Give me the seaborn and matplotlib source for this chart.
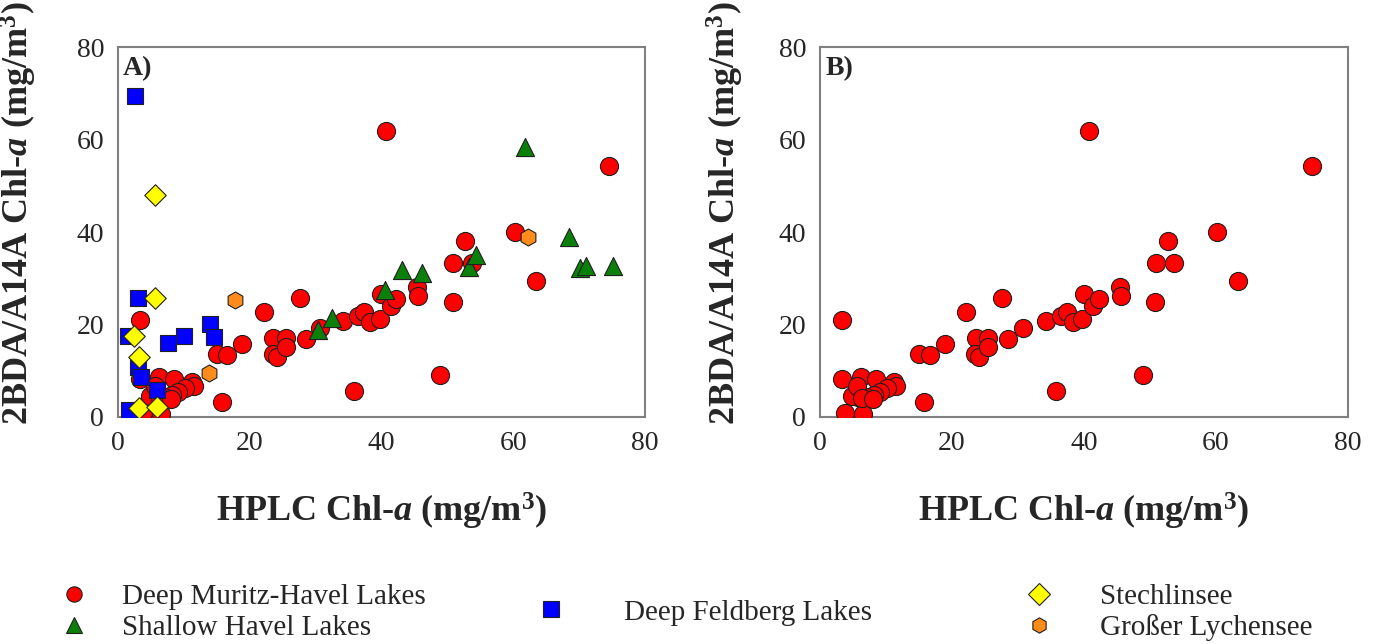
import pandas as pd
import seaborn as sns
import matplotlib.pyplot as plt
from matplotlib.lines import Line2D

# Deep Muritz-Havel Lakes (red circles) - shown in both panels
muritz_x = [3.3, 3.4, 3.8, 6.2, 6.5, 8.5, 11.2, 11.5, 10.2, 9.1, 8.2, 7.0, 5.8, 4.8, 5.6, 6.4, 8.0,
            15.0, 16.6, 18.9, 15.8, 22.2, 27.6, 23.6, 25.5, 23.5, 24.1, 25.5, 28.5, 30.7, 34.2,
            36.5, 37.4, 38.3, 39.7, 40.0, 41.4, 42.2, 35.8, 40.7, 45.4, 45.6, 48.9, 50.9, 50.8,
            52.7, 53.7, 60.2, 63.4, 74.6]
muritz_y = [21.0, 8.3, 0.8, 8.7, 0.7, 8.3, 7.6, 6.7, 6.2, 5.3, 4.8, 4.4, 4.4, 4.5, 6.6, 4.0, 3.9,
            13.6, 13.4, 15.8, 3.3, 22.6, 25.8, 17.0, 17.0, 13.6, 13.0, 15.2, 16.9, 19.2, 20.8,
            21.8, 22.6, 20.6, 21.1, 26.7, 23.9, 25.6, 5.6, 61.9, 28.0, 26.2, 9.0, 33.2, 24.8,
            38.0, 33.4, 40.1, 29.4, 54.2]

# Shallow Havel Lakes (green triangles)
havel_x = [30.4, 32.5, 40.5, 43.1, 46.2, 53.3, 54.3, 61.8, 68.4, 70.1, 71.1, 75.2]
havel_y = [18.8, 21.3, 27.5, 31.8, 31.1, 32.5, 35.0, 58.4, 39.0, 32.3, 32.6, 32.6]

# Deep Feldberg Lakes (blue squares)
feldberg_x = [2.6, 3.0, 13.9, 14.6, 10.0, 7.6, 1.5, 3.0, 3.5, 6.0, 1.7]
feldberg_y = [69.5, 25.7, 20.1, 17.4, 17.5, 15.9, 17.5, 10.9, 8.6, 5.8, 1.5]

# Stechlinsee (yellow diamonds)
stechlin_x = [5.6, 5.7, 2.4, 3.2, 3.2, 5.9]
stechlin_y = [48.0, 25.7, 17.5, 12.9, 2.0, 2.2]

# Grosser Lychensee (orange hexagons)
lychen_x = [17.7, 13.8, 62.3]
lychen_y = [25.3, 9.6, 38.9]

groups = [
    ("Deep Muritz-Havel Lakes", muritz_x, muritz_y, "#ff0000", "o", 170),
    ("Shallow Havel Lakes", havel_x, havel_y, "#0a800a", "^", 170),
    ("Deep Feldberg Lakes", feldberg_x, feldberg_y, "#0000ff", "s", 130),
    ("Stechlinsee", stechlin_x, stechlin_y, "#ffff00", "D", 120),
    ("Großer Lychensee", lychen_x, lychen_y, "#ff8c1a", "h", 150),
]

sns.set_style("white")
plt.rcParams["font.family"] = ["Liberation Serif", "DejaVu Serif"]
plt.rcParams["mathtext.fontset"] = "custom"
plt.rcParams["mathtext.rm"] = "Liberation Serif:bold"
plt.rcParams["mathtext.it"] = "Liberation Serif:italic:bold"
plt.rcParams["mathtext.bf"] = "Liberation Serif:bold"

fig = plt.figure(figsize=(13.73, 6.44), dpi=100)
ax_a = fig.add_axes([0.0859, 0.3525, 0.3839, 0.5745])
ax_b = fig.add_axes([0.5972, 0.3525, 0.3846, 0.5745])

for name, xs, ys, col, mk, s in groups:
    df = pd.DataFrame({"hplc": xs, "bda": ys})
    sns.scatterplot(data=df, x="hplc", y="bda", ax=ax_a, color=col, marker=mk, s=s,
                    edgecolor="#202020", linewidth=0.8, legend=False, zorder=3)

df_b = pd.DataFrame({"hplc": muritz_x, "bda": muritz_y})
sns.scatterplot(data=df_b, x="hplc", y="bda", ax=ax_b, color="#ff0000", marker="o", s=170,
                edgecolor="#202020", linewidth=0.8, legend=False, zorder=3)

xlab = r"HPLC Chl-$\mathit{a}$ (mg/m$^{3}$)"
ylab = r"2BDA/A14A Chl-$\mathit{a}$ (mg/m$^{3}$)"
for ax, tag, ylx in [(ax_a, "A)", -0.15), (ax_b, "B)", -0.14)]:
    ax.set_xlim(0, 80)
    ax.set_ylim(0, 80)
    ax.set_xticks([0, 20, 40, 60, 80])
    ax.set_yticks([0, 20, 40, 60, 80])
    for sp in ax.spines.values():
        sp.set_color("#808080")
        sp.set_linewidth(1.5)
    ax.tick_params(axis="both", direction="out", length=6, width=1.2, color="#808080",
                   labelsize=20, pad=4)
    ax.set_xlabel(xlab, fontsize=26, fontweight="bold")
    ax.set_ylabel(ylab, fontsize=26, fontweight="bold")
    ax.xaxis.set_label_coords(0.5, -0.2)
    ax.yaxis.set_label_coords(ylx, 0.55)
    ax.text(0.01, 0.975, tag, transform=ax.transAxes, fontsize=20, fontweight="bold",
            va="top", ha="left")


def handle(name):
    for n, xs, ys, col, mk, s in groups:
        if n == name:
            return Line2D([], [], linestyle="none", marker=mk, markerfacecolor=col,
                          markeredgecolor="#202020", markeredgewidth=0.8, markersize=11,
                          label=n)


leg_kw = dict(frameon=False, fontsize=21, handlelength=1.0, labelspacing=0.15,
              borderpad=0, borderaxespad=0, loc="center left")
fig.legend(handles=[handle("Deep Muritz-Havel Lakes"), handle("Shallow Havel Lakes")],
           bbox_to_anchor=(0.043, 0.049), handletextpad=1.15, **leg_kw)
fig.legend(handles=[handle("Deep Feldberg Lakes")],
           bbox_to_anchor=(0.391, 0.049), handletextpad=2.0, **leg_kw)
fig.legend(handles=[handle("Stechlinsee"), handle("Großer Lychensee")],
           bbox_to_anchor=(0.746, 0.049), handletextpad=1.6, **leg_kw)

fig.savefig("out.png", dpi=100)
